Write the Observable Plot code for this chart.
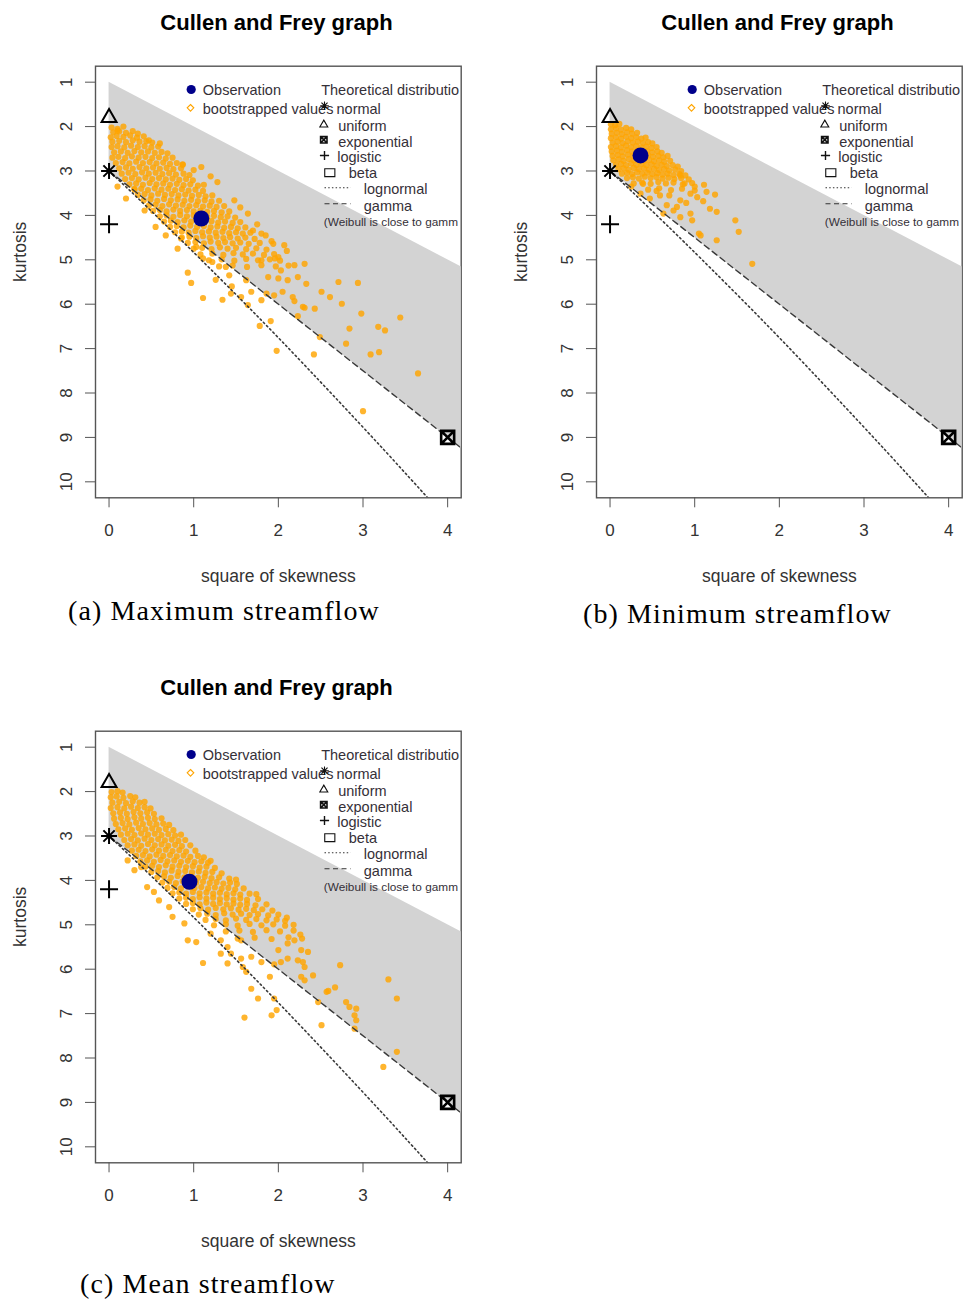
<!DOCTYPE html>
<html><head><meta charset="utf-8">
<script src="https://cdn.jsdelivr.net/npm/d3@7"></script>
<script src="https://cdn.jsdelivr.net/npm/@observablehq/plot@0.6"></script>
<style>
html,body{margin:0;padding:0;background:#fff;overflow:hidden;}
#wrap{position:relative;width:963px;height:1304px;overflow:hidden;background:#fff;}
.title{position:absolute;font:bold 22px "Liberation Sans",Arial,sans-serif;transform:translate(-50%,-50%);white-space:nowrap;color:#000;}
.caption{position:absolute;font:28px "Liberation Serif","Times New Roman",serif;white-space:nowrap;transform:translateY(-50%);letter-spacing:1.1px;color:#000;line-height:1;}
</style></head><body><div id="wrap"></div>
<script>
// ---- axes ----
const xTicks = [0, 1, 2, 3, 4];
const yTicks = [1, 2, 3, 4, 5, 6, 7, 8, 9, 10];
const xDomain = [-0.16, 4.16];
const yDomain = [0.64, 10.36];

// ---- theoretical references (square of skewness, kurtosis) ----
const betaS = [0, 4.4];
const betaTop = [1, 5.4];
const betaBottom = [3, 9.6];
const gammaS = [0, 4.4];
const gammaK = [3, 9.6];
const lognormS = [0, 0.229, 0.465, 0.709, 0.961, 1.488, 2.048, 2.641, 3.267, 3.793];
const lognormK = [3, 3.41, 3.84, 4.29, 4.76, 5.76, 6.85, 8.04, 9.32, 10.42];
const normalPt = [[0, 3]];
const uniformPt = [[0, 1.8]];
const logisticPt = [[0, 4.2]];
const exponentialPt = [[4, 9]];

// ---- observations ----
const maxObs = [[1.09, 4.07]];
const minObs = [[0.36, 2.65]];
const meanObs = [[0.95, 4.03]];

// ---- bootstrapped values: (a) maximum streamflow ----
const maxBoot = [
[0.03,2.02],[0.10,2.05],[0.17,2.00],
[0.05,2.13],[0.12,2.11],[0.20,2.14],[0.28,2.10],[0.34,2.16],
[0.02,2.24],[0.09,2.21],[0.17,2.23],[0.25,2.20],[0.33,2.25],[0.41,2.22],
[0.04,2.34],[0.12,2.32],[0.20,2.35],[0.28,2.31],[0.36,2.34],[0.44,2.33],[0.51,2.36],
[0.03,2.46],[0.10,2.44],[0.18,2.47],[0.26,2.43],[0.34,2.46],[0.42,2.44],[0.50,2.47],[0.58,2.45],
[0.06,2.58],[0.14,2.56],[0.22,2.59],[0.30,2.55],[0.38,2.58],[0.46,2.56],[0.54,2.59],[0.62,2.57],[0.69,2.60],
[0.04,2.70],[0.11,2.68],[0.19,2.71],[0.27,2.67],[0.35,2.70],[0.43,2.68],[0.51,2.71],[0.59,2.69],[0.67,2.72],[0.75,2.70],
[0.08,2.82],[0.16,2.80],[0.24,2.83],[0.32,2.79],[0.40,2.82],[0.48,2.80],[0.56,2.83],[0.64,2.81],[0.72,2.84],[0.80,2.82],[0.87,2.85],
[0.12,2.94],[0.20,2.92],[0.28,2.95],[0.36,2.91],[0.44,2.94],[0.52,2.92],[0.60,2.95],[0.68,2.93],[0.76,2.96],[0.85,2.94],
[0.15,3.06],[0.23,3.04],[0.31,3.07],[0.39,3.03],[0.47,3.06],[0.55,3.04],[0.63,3.07],[0.71,3.05],[0.79,3.08],[0.88,3.06],[0.95,3.09],
[0.19,3.18],[0.27,3.16],[0.35,3.19],[0.43,3.15],[0.51,3.18],[0.59,3.16],[0.67,3.19],[0.75,3.17],[0.83,3.20],[0.91,3.18],[0.99,3.21],
[0.24,3.30],[0.32,3.28],[0.40,3.31],[0.48,3.27],[0.56,3.30],[0.64,3.28],[0.72,3.31],[0.80,3.29],[0.88,3.32],[0.96,3.30],[1.05,3.33],[1.12,3.31],
[0.30,3.42],[0.38,3.40],[0.46,3.43],[0.54,3.39],[0.62,3.42],[0.70,3.40],[0.78,3.43],[0.86,3.41],[0.94,3.44],[1.02,3.42],[1.11,3.45],
[0.34,3.54],[0.42,3.52],[0.50,3.55],[0.58,3.51],[0.66,3.54],[0.74,3.52],[0.82,3.55],[0.90,3.53],[0.98,3.56],[1.06,3.54],[1.14,3.57],[1.22,3.55],
[0.41,3.66],[0.49,3.64],[0.57,3.67],[0.65,3.63],[0.73,3.66],[0.81,3.64],[0.89,3.67],[0.97,3.65],[1.05,3.68],[1.13,3.66],[1.21,3.69],[1.30,3.67],
[0.47,3.78],[0.55,3.76],[0.63,3.79],[0.71,3.75],[0.79,3.78],[0.87,3.76],[0.95,3.79],[1.03,3.77],[1.11,3.80],[1.19,3.78],[1.27,3.81],[1.36,3.79],
[0.52,3.90],[0.60,3.88],[0.68,3.91],[0.76,3.87],[0.84,3.90],[0.92,3.88],[1.00,3.91],[1.08,3.89],[1.16,3.92],[1.24,3.90],[1.33,3.93],[1.42,3.91],
[0.60,4.02],[0.68,4.00],[0.76,4.03],[0.84,3.99],[0.92,4.02],[1.00,4.00],[1.16,4.03],[1.24,4.01],[1.32,4.04],[1.40,4.02],[1.49,4.05],
[0.65,4.14],[0.73,4.12],[0.81,4.15],[0.89,4.11],[0.97,4.14],[1.05,4.12],[1.13,4.15],[1.21,4.13],[1.29,4.16],[1.37,4.14],[1.46,4.17],[1.55,4.15],
[0.72,4.26],[0.80,4.24],[0.88,4.27],[0.96,4.23],[1.04,4.26],[1.12,4.24],[1.20,4.27],[1.28,4.25],[1.36,4.28],[1.44,4.26],[1.52,4.29],[1.61,4.27],
[0.78,4.38],[0.86,4.36],[0.94,4.39],[1.02,4.35],[1.10,4.38],[1.18,4.36],[1.26,4.39],[1.34,4.37],[1.42,4.40],[1.50,4.38],[1.58,4.41],[1.67,4.39],
[0.86,4.50],[0.95,4.48],[1.03,4.51],[1.11,4.47],[1.19,4.50],[1.27,4.48],[1.35,4.51],[1.43,4.49],[1.52,4.52],[1.61,4.50],[1.72,4.53],
[0.93,4.62],[1.02,4.60],[1.12,4.63],[1.20,4.59],[1.29,4.62],[1.37,4.60],[1.46,4.63],[1.55,4.61],[1.65,4.64],[1.78,4.62],
[1.00,4.75],[1.10,4.73],[1.21,4.76],[1.31,4.72],[1.40,4.75],[1.50,4.73],[1.62,4.76],[1.74,4.74],[1.86,4.77],
[1.08,4.88],[1.22,4.86],[1.35,4.89],[1.47,4.85],[1.58,4.88],[1.70,4.86],[1.83,4.89],[1.95,4.87],
[1.18,5.01],[1.33,4.99],[1.48,5.02],[1.62,4.98],[1.76,5.01],[1.90,4.99],[2.02,5.02],
[1.30,5.15],[1.46,5.13],[1.63,5.16],[1.80,5.12],[1.97,5.15],[2.12,5.13],
[0.10,2.09],[0.47,2.31],[0.60,2.38],[0.87,2.86],[1.00,2.98],[1.09,2.91],[1.20,3.12],[1.28,3.25],[1.48,3.66],[1.55,3.82],[1.64,3.96],[1.75,4.20],[1.70,4.34],[1.85,4.45],[1.92,4.58],[2.10,4.80],
[0.10,3.35],[0.20,3.62],[0.30,3.40],[0.42,3.89],[0.55,4.26],[0.67,4.45],[0.85,4.52],[0.81,4.75],[1.03,4.71],[1.11,4.97],[1.22,5.05],[1.38,5.16],[1.42,5.35],[1.62,5.46],[1.68,5.72],
[0.93,5.29],[0.97,5.52],[1.11,5.86],[1.26,5.45],[1.34,5.90],[1.44,5.76],[1.45,5.60],[1.56,5.84],[1.64,6.02],[1.78,6.49],[1.91,6.38],[1.98,7.05],[1.80,5.91],
[1.88,5.39],[2.00,5.42],[2.11,5.46],[2.23,5.39],[2.33,5.54],[2.19,5.12],[2.31,5.09],[2.03,5.24],[1.96,4.97],[1.80,5.01],[2.07,4.67],[1.94,4.64],[1.80,4.41],[2.00,4.94],
[1.86,5.76],[1.95,5.80],[2.05,5.72],[2.17,5.84],[2.19,5.93],[2.51,5.72],[2.61,5.84],[2.31,6.08],[2.43,6.10],[2.23,6.27],[2.29,6.06],
[2.71,5.50],[2.94,5.52],[2.75,5.99],[2.98,6.21],[3.44,6.30],[2.84,6.55],[3.18,6.51],[3.26,6.59],[2.80,6.89],[3.09,7.13],[3.19,7.08],[3.65,7.56],[3.00,8.41],[2.49,6.74],[2.42,7.13]
];

// ---- bootstrapped values: (b) minimum streamflow ----
const minBoot = [
[0.01,1.95],[0.06,1.97],[0.11,1.94],
[0.01,2.06],[0.07,2.04],[0.13,2.07],[0.19,2.03],[0.25,2.06],
[0.02,2.16],[0.08,2.14],[0.14,2.17],[0.20,2.13],[0.26,2.16],[0.32,2.14],
[0.01,2.26],[0.07,2.24],[0.13,2.27],[0.19,2.23],[0.25,2.26],[0.31,2.24],[0.37,2.27],[0.42,2.25],
[0.03,2.36],[0.09,2.34],[0.15,2.37],[0.21,2.33],[0.27,2.36],[0.33,2.34],[0.39,2.37],[0.45,2.35],[0.50,2.38],
[0.01,2.46],[0.07,2.44],[0.13,2.47],[0.19,2.43],[0.25,2.46],[0.31,2.44],[0.37,2.47],[0.43,2.45],[0.49,2.48],[0.55,2.46],
[0.02,2.56],[0.08,2.54],[0.14,2.57],[0.20,2.53],[0.26,2.56],[0.32,2.54],[0.38,2.57],[0.44,2.55],[0.50,2.58],[0.56,2.56],[0.61,2.59],
[0.03,2.66],[0.09,2.64],[0.15,2.67],[0.21,2.63],[0.27,2.66],[0.33,2.64],[0.39,2.67],[0.45,2.65],[0.51,2.68],[0.57,2.66],[0.63,2.69],[0.68,2.66],
[0.04,2.76],[0.10,2.74],[0.16,2.77],[0.22,2.73],[0.28,2.76],[0.34,2.74],[0.40,2.77],[0.46,2.75],[0.52,2.78],[0.58,2.76],[0.64,2.79],[0.71,2.77],
[0.07,2.86],[0.13,2.84],[0.19,2.87],[0.25,2.83],[0.31,2.86],[0.37,2.84],[0.43,2.87],[0.49,2.85],[0.55,2.88],[0.61,2.86],[0.67,2.89],[0.74,2.87],[0.80,2.90],
[0.10,2.96],[0.16,2.94],[0.22,2.97],[0.28,2.93],[0.34,2.96],[0.40,2.94],[0.46,2.97],[0.52,2.95],[0.58,2.98],[0.64,2.96],[0.70,2.99],[0.77,2.97],[0.84,3.00],
[0.14,3.06],[0.20,3.04],[0.26,3.07],[0.32,3.03],[0.38,3.06],[0.44,3.04],[0.50,3.07],[0.56,3.05],[0.62,3.08],[0.68,3.06],[0.75,3.09],[0.82,3.07],[0.89,3.10],
[0.20,3.16],[0.27,3.14],[0.34,3.17],[0.41,3.13],[0.48,3.16],[0.55,3.14],[0.62,3.17],[0.69,3.15],[0.76,3.18],[0.84,3.16],[0.93,3.19],
[0.28,3.28],[0.38,3.26],[0.48,3.29],[0.57,3.25],[0.66,3.28],[0.75,3.26],[0.86,3.30],[0.97,3.27],
[0.45,3.42],[0.58,3.39],[0.72,3.43],[0.85,3.40],[1.00,3.44],
[0.83,3.10],[1.11,3.31],[1.24,3.53],[1.18,3.85],[1.26,3.92],[1.03,3.59],[0.95,3.51],[0.83,3.66],[0.67,3.77],[0.79,3.81],
[0.95,3.96],[0.97,4.11],[0.83,4.04],[1.07,4.45],[1.26,4.56],[1.48,4.11],[1.52,4.37],[1.68,5.09],[0.59,3.55],[0.47,3.62],
[1.14,3.47],[1.05,4.41],[0.63,3.96],[0.75,3.89],[0.39,3.29],[0.36,3.51],[0.90,3.72],[1.10,3.68],[1.00,3.35],[0.70,3.55],
[0.55,3.45],[0.25,3.35],[0.88,3.28]
];

// ---- bootstrapped values: (c) mean streamflow ----
const meanBoot = [
[0.03,2.01],[0.10,1.99],[0.16,2.02],
[0.02,2.13],[0.09,2.11],[0.17,2.14],[0.25,2.10],[0.31,2.13],
[0.04,2.25],[0.12,2.23],[0.20,2.26],[0.28,2.22],[0.36,2.25],[0.42,2.23],
[0.02,2.37],[0.10,2.35],[0.18,2.38],[0.26,2.34],[0.34,2.37],[0.42,2.35],[0.49,2.38],
[0.05,2.49],[0.13,2.47],[0.21,2.50],[0.29,2.46],[0.37,2.49],[0.45,2.47],[0.53,2.50],
[0.06,2.61],[0.14,2.59],[0.22,2.62],[0.30,2.58],[0.38,2.61],[0.46,2.59],[0.54,2.62],[0.62,2.60],
[0.08,2.73],[0.16,2.71],[0.24,2.74],[0.32,2.70],[0.40,2.73],[0.48,2.71],[0.56,2.74],[0.64,2.72],[0.71,2.75],
[0.11,2.85],[0.19,2.83],[0.27,2.86],[0.35,2.82],[0.43,2.85],[0.51,2.83],[0.59,2.86],[0.67,2.84],[0.76,2.87],
[0.14,2.97],[0.22,2.95],[0.30,2.98],[0.38,2.94],[0.46,2.97],[0.54,2.95],[0.62,2.98],[0.70,2.96],[0.78,2.99],[0.85,2.97],
[0.18,3.09],[0.26,3.07],[0.34,3.10],[0.42,3.06],[0.50,3.09],[0.58,3.07],[0.66,3.10],[0.74,3.08],[0.82,3.11],[0.90,3.09],
[0.22,3.21],[0.30,3.19],[0.38,3.22],[0.46,3.18],[0.54,3.21],[0.62,3.19],[0.70,3.22],[0.78,3.20],[0.86,3.23],[0.96,3.21],
[0.27,3.33],[0.35,3.31],[0.43,3.34],[0.51,3.30],[0.59,3.33],[0.67,3.31],[0.75,3.34],[0.83,3.32],[0.91,3.35],[1.02,3.33],
[0.32,3.45],[0.40,3.43],[0.48,3.46],[0.56,3.42],[0.64,3.45],[0.72,3.43],[0.80,3.46],[0.88,3.44],[0.96,3.47],[1.05,3.45],[1.12,3.48],
[0.37,3.57],[0.45,3.55],[0.53,3.58],[0.61,3.54],[0.69,3.57],[0.77,3.55],[0.85,3.58],[0.93,3.56],[1.01,3.59],[1.09,3.57],[1.17,3.60],
[0.43,3.69],[0.51,3.67],[0.59,3.70],[0.67,3.66],[0.75,3.69],[0.83,3.67],[0.91,3.70],[0.99,3.68],[1.07,3.71],[1.15,3.69],[1.25,3.72],
[0.50,3.81],[0.58,3.79],[0.66,3.82],[0.74,3.78],[0.82,3.81],[0.90,3.79],[0.98,3.82],[1.06,3.80],[1.14,3.83],[1.22,3.81],[1.33,3.84],
[0.57,3.93],[0.65,3.91],[0.73,3.94],[0.81,3.90],[0.89,3.93],[0.97,3.91],[1.05,3.94],[1.13,3.92],[1.21,3.95],[1.30,3.93],[1.42,3.96],
[0.63,4.05],[0.71,4.03],[0.79,4.06],[0.87,4.02],[1.03,4.05],[1.11,4.03],[1.19,4.06],[1.27,4.04],[1.35,4.07],[1.43,4.05],[1.51,4.08],
[0.69,4.17],[0.77,4.15],[0.85,4.18],[0.93,4.14],[1.01,4.17],[1.09,4.15],[1.17,4.18],[1.25,4.16],[1.33,4.19],[1.41,4.17],[1.49,4.20],[1.59,4.18],
[0.75,4.29],[0.83,4.27],[0.91,4.30],[0.99,4.26],[1.07,4.29],[1.15,4.27],[1.23,4.30],[1.31,4.28],[1.39,4.31],[1.47,4.29],[1.55,4.32],[1.66,4.30],
[0.83,4.41],[0.91,4.39],[0.99,4.42],[1.07,4.38],[1.15,4.41],[1.23,4.39],[1.31,4.42],[1.39,4.40],[1.47,4.43],[1.55,4.41],[1.63,4.44],[1.76,4.42],
[0.91,4.53],[0.99,4.51],[1.07,4.54],[1.15,4.50],[1.23,4.53],[1.31,4.51],[1.39,4.54],[1.47,4.52],[1.55,4.55],[1.63,4.53],[1.73,4.56],[1.86,4.54],
[0.99,4.65],[1.08,4.63],[1.17,4.66],[1.26,4.62],[1.35,4.65],[1.44,4.63],[1.53,4.66],[1.62,4.64],[1.71,4.67],[1.81,4.65],[1.93,4.68],
[1.06,4.77],[1.16,4.75],[1.26,4.78],[1.36,4.74],[1.46,4.77],[1.56,4.75],[1.66,4.78],[1.76,4.76],[1.88,4.79],[2.00,4.77],
[1.14,4.89],[1.26,4.87],[1.38,4.90],[1.50,4.86],[1.62,4.89],[1.74,4.87],[1.86,4.90],[1.98,4.88],[2.08,4.91],
[1.24,5.01],[1.38,4.99],[1.52,5.02],[1.66,4.98],[1.80,5.01],[1.94,4.99],[2.08,5.02],[2.18,5.00],
[1.38,5.15],[1.54,5.13],[1.70,5.16],[1.86,5.12],[2.02,5.15],[2.18,5.13],
[1.52,5.31],[1.72,5.29],[1.92,5.32],[2.12,5.28],[2.28,5.31],
[0.22,3.55],[0.30,3.77],[0.38,3.70],[0.45,4.15],[0.53,4.26],[0.59,4.45],[0.71,4.60],[0.75,4.82],[0.89,4.97],
[0.93,5.35],[1.03,5.39],[1.11,5.86],[1.20,5.20],[1.32,5.35],[1.40,5.50],[1.58,5.95],[1.62,6.06],[1.68,6.44],[1.76,6.66],
[1.90,6.17],[1.95,6.66],[1.98,6.92],[1.92,7.04],[1.60,7.09],[1.40,5.87],
[2.73,5.91],[3.30,6.23],[3.40,6.66],[2.59,6.49],[2.67,6.41],[2.80,6.74],[2.84,6.85],[2.92,6.89],[2.90,7.04],[2.92,7.15],
[2.90,7.34],[2.51,7.26],[3.40,7.86],[3.24,8.20],[2.47,6.74],[2.41,6.14],[2.31,6.25],[2.27,6.17],[2.31,5.95],[2.29,5.84],
[2.35,5.61],[2.23,5.80],[2.11,5.76],[2.03,5.84],[1.95,5.89],[1.56,5.76],[1.68,5.72],[1.80,5.84],[2.11,5.42],[2.19,5.35],
[2.27,5.57],[2.00,5.57],[1.56,5.35],[1.44,5.65],[1.32,5.65],[2.57,6.51],
[1.20,3.56],[1.50,3.98],[1.74,4.31],[2.10,4.84],[2.26,5.22]
];

// ---- legend / label text (as visible in the reference, where the plot region cuts it) ----
const legendLeft = ["Observation", "bootstrapped values"];
const legendRightTitle = "Theoretical distributio";
const distNames = ["normal", "uniform", "exponential", "logistic", "beta", "lognormal", "gamma"];
const weibullNote = "(Weibull is close to gamm";
const panelTitle = "Cullen and Frey graph";
const xLabel = "square of skewness";
const yLabel = "kurtosis";
const captions = ["(a) Maximum streamflow", "(b) Minimum streamflow", "(c) Mean streamflow"];

// ---- R-like symbols ----
const rad = (size) => Math.sqrt(size / Math.PI);
const sym = {
  star8: {draw(c, s) { const r = rad(s), d = r * 0.7071; c.moveTo(-r, 0); c.lineTo(r, 0); c.moveTo(0, -r); c.lineTo(0, r); c.moveTo(-d, -d); c.lineTo(d, d); c.moveTo(-d, d); c.lineTo(d, -d); }},
  plus: {draw(c, s) { const r = rad(s); c.moveTo(-r, 0); c.lineTo(r, 0); c.moveTo(0, -r); c.lineTo(0, r); }},
  tri: {draw(c, s) { const r = rad(s); c.moveTo(0, -r); c.lineTo(r * 0.866, r * 0.5); c.lineTo(-r * 0.866, r * 0.5); c.closePath(); }},
  boxX: {draw(c, s) { const r = rad(s); c.rect(-r, -r, 2 * r, 2 * r); c.moveTo(-r, -r); c.lineTo(r, r); c.moveTo(-r, r); c.lineTo(r, -r); }},
  box: {draw(c, s) { const r = rad(s); c.rect(-r * 1.15, -r * 0.9, 2.3 * r, 1.8 * r); }},
  diamond: {draw(c, s) { const r = rad(s); c.moveTo(0, -r); c.lineTo(r, 0); c.lineTo(0, r); c.lineTo(-r, 0); c.closePath(); }},
  hline: {draw(c, s) { const r = rad(s); c.moveTo(-r, 0); c.lineTo(r, 0); }}
};

const FONT = '"Liberation Sans", Arial, sans-serif';
const TXT = "#353038";
const toRows = (s, a, b) => s.map((v, i) => ({s: v, a: a[i], b: b[i]}));

function legendText(t, dx, dy, size = 14.5) {
  return Plot.text([t], {frameAnchor: "top-left", dx, dy, textAnchor: "start", lineAnchor: "middle", fontSize: size, fill: TXT, clip: true});
}
function legendSym(symbol, dx, dy, r, opts = {}) {
  return Plot.dot([0], {frameAnchor: "top-left", dx, dy, r, symbol, fill: "none", stroke: "#111", strokeWidth: 1.1, clip: true, ...opts});
}

function panel(boot, obs) {
  const P = d => d[0], K = d => d[1];
  return Plot.plot({
    width: 470, height: 600,
    marginLeft: 95, marginRight: 9.3, marginTop: 65.7, marginBottom: 102.7,
    style: {fontFamily: FONT, color: "#333", background: "transparent", overflow: "visible"},
    x: {domain: xDomain},
    y: {domain: yDomain, reverse: true},
    marks: [
      Plot.frame({stroke: "#555", strokeWidth: 1.4}),
      Plot.areaY(toRows(betaS, betaTop, betaBottom), {x: "s", y1: "a", y2: "b", fill: "#d3d3d3", clip: true}),
      Plot.axisX({ticks: xTicks, tickFormat: "d", tickSize: 10, tickPadding: 16, fontSize: 17, stroke: "#555", fill: "#333", label: null}),
      Plot.axisY({ticks: yTicks, tickFormat: "d", tickSize: 10, tickPadding: 14, tickRotate: -90, fontSize: 17, stroke: "#555", fill: "#333", label: null}),
      Plot.dot(boot, {x: P, y: K, r: 3.1, fill: "#ffa500", fillOpacity: 0.82, stroke: "none", clip: true}),
      Plot.line(toRows(gammaS, gammaK, gammaK), {x: "s", y: "a", stroke: "#3a3a3a", strokeWidth: 1.4, strokeDasharray: "6,4", clip: true}),
      Plot.line(toRows(lognormS, lognormK, lognormK), {x: "s", y: "a", curve: "natural", stroke: "#3a3a3a", strokeWidth: 1.6, strokeDasharray: "1.6,3", clip: true}),
      Plot.dot(obs, {x: P, y: K, r: 8, fill: "#00008b", stroke: "none"}),
      Plot.dot(normalPt, {x: P, y: K, r: 8, symbol: sym.star8, fill: "none", stroke: "#000", strokeWidth: 2}),
      Plot.dot(uniformPt, {x: P, y: K, r: 8.6, symbol: sym.tri, fill: "none", stroke: "#000", strokeWidth: 2}),
      Plot.dot(logisticPt, {x: P, y: K, r: 9, symbol: sym.plus, fill: "none", stroke: "#000", strokeWidth: 2}),
      Plot.dot(exponentialPt, {x: P, y: K, r: 6.5, symbol: sym.boxX, fill: "none", stroke: "#000", strokeWidth: 2.6}),
      // legend
      Plot.dot([0], {frameAnchor: "top-left", dx: 95.7, dy: 23.3, r: 4.6, fill: "#00008b", stroke: "none"}),
      legendText(legendLeft[0], 107.3, 24.5),
      legendSym(sym.diamond, 95, 41.6, 3.3, {stroke: "#ffa500"}),
      legendText(legendLeft[1], 107.3, 43.6),
      legendText(legendRightTitle, 225.7, 24.5),
      legendSym(sym.star8, 229, 39.5, 4.3),
      legendText(distNames[0], 241, 43.6),
      legendSym(sym.tri, 228.3, 58.5, 4.6),
      legendText(distNames[1], 242.7, 60.3),
      legendSym(sym.boxX, 228.3, 73.6, 3.2, {strokeWidth: 1.6}),
      legendText(distNames[2], 242.7, 76),
      legendSym(sym.plus, 229, 89.3, 4.6, {strokeWidth: 1.4}),
      legendText(distNames[3], 241.7, 91.6),
      legendSym(sym.box, 234.3, 106.5, 4.4),
      legendText(distNames[4], 253.3, 107.6),
      legendSym(sym.hline, 242, 121.6, 13, {strokeDasharray: "1.5,2.2", stroke: "#333"}),
      legendText(distNames[5], 268.3, 123.6),
      legendSym(sym.hline, 242, 137.6, 13, {strokeDasharray: "5,3.5", stroke: "#333"}),
      legendText(distNames[6], 268.3, 140.3),
      legendText(weibullNote, 228.3, 156, 11.8),
      // axis titles
      Plot.text([xLabel], {frameAnchor: "bottom", dy: 78.7, lineAnchor: "middle", fontSize: 17.5, fill: "#333"}),
      Plot.text([yLabel], {frameAnchor: "left", dx: -75, rotate: -90, lineAnchor: "middle", fontSize: 17.5, fill: "#333"})
    ]
  });
}

const wrap = document.getElementById("wrap");
function place(el, left, top) {
  el.style.position = "absolute";
  el.style.left = left + "px";
  el.style.top = top + "px";
  wrap.appendChild(el);
}
function addDiv(cls, text, left, top) {
  const d = document.createElement("div");
  d.className = cls; d.textContent = text;
  d.style.left = left + "px"; d.style.top = top + "px";
  wrap.appendChild(d);
}

place(panel(maxBoot, maxObs), 0, 0);
place(panel(minBoot, minObs), 500.7, 0);
place(panel(meanBoot, meanObs), 0, 665);

addDiv("title", panelTitle, 276.5, 22.7);
addDiv("title", panelTitle, 777.5, 22.7);
addDiv("title", panelTitle, 276.5, 687.5);
addDiv("caption", captions[0], 68, 611);
addDiv("caption", captions[1], 583, 614);
addDiv("caption", captions[2], 80, 1284);
</script>
</body></html>
